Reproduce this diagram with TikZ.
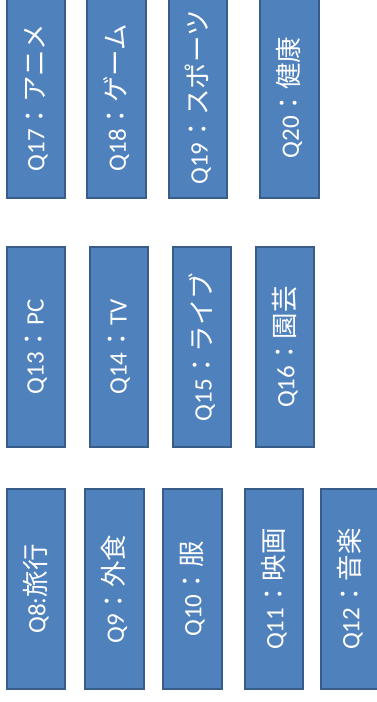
\documentclass[tikz,border=0pt]{standalone}
\usepackage{fontspec}
\setmainfont{Carlito}
\newfontfamily\jp[Scale=1.06]{Noto Sans CJK JP}
\definecolor{boxfill}{HTML}{4F81BD}
\definecolor{boxline}{HTML}{385D8A}
\tikzset{
  qbox/.style={draw=boxline, fill=boxfill, line width=1.6pt, rectangle,
    minimum width=#1, inner sep=0pt, text=white, font=\fontsize{25}{29}\selectfont},
  qbox/.default=58pt
}
\newcommand{\vt}[1]{\rotatebox{90}{#1}}
\begin{document}
\begin{tikzpicture}[x=1pt,y=-1pt]
\useasboundingbox (0,0) rectangle (377,702);
\fill[white] (0,0) rectangle (377,702);
% top row y -3..198
\node[qbox, minimum height=201pt] (q17) at (36,97.5) {\vt{Q17{\jp ：アニメ}}};
\node[qbox, minimum height=201pt, minimum width=59pt] (q18) at (116.5,97.5) {\vt{Q18{\jp ：ゲーム}}};
\node[qbox, minimum height=201pt] (q19) at (198,97.5) {\vt{Q19{\jp ：スポーツ}}};
\node[qbox, minimum height=201pt, minimum width=59pt] (q20) at (289.5,97.5) {\vt{Q20{\jp ：健康}}};
% middle row y 247..447
\node[qbox, minimum height=200pt] (q13) at (36,347) {\vt{Q13{\jp ：}PC}};
\node[qbox, minimum height=200pt] (q14) at (119,347) {\vt{Q14{\jp ：}TV}};
\node[qbox, minimum height=200pt] (q15) at (202,347) {\vt{Q15{\jp ：ライブ}}};
\node[qbox, minimum height=200pt] (q16) at (285,347) {\vt{Q16{\jp ：園芸}}};
% bottom row y 489..689
\node[qbox, minimum height=200pt] (q8) at (36,589) {\vt{Q8:{\jp 旅行}}};
\node[qbox, minimum height=200pt, minimum width=59pt] (q9) at (114.5,589) {\vt{Q9{\jp ：外食}}};
\node[qbox, minimum height=200pt, minimum width=59pt] (q10) at (192.5,589) {\vt{Q10{\jp ：服}}};
\node[qbox, minimum height=200pt] (q11) at (274,589) {\vt{Q11{\jp ：映画}}};
\node[qbox, minimum height=200pt] (q12) at (350,589) {\vt{Q12{\jp ：音楽}}};
\end{tikzpicture}
\end{document}
